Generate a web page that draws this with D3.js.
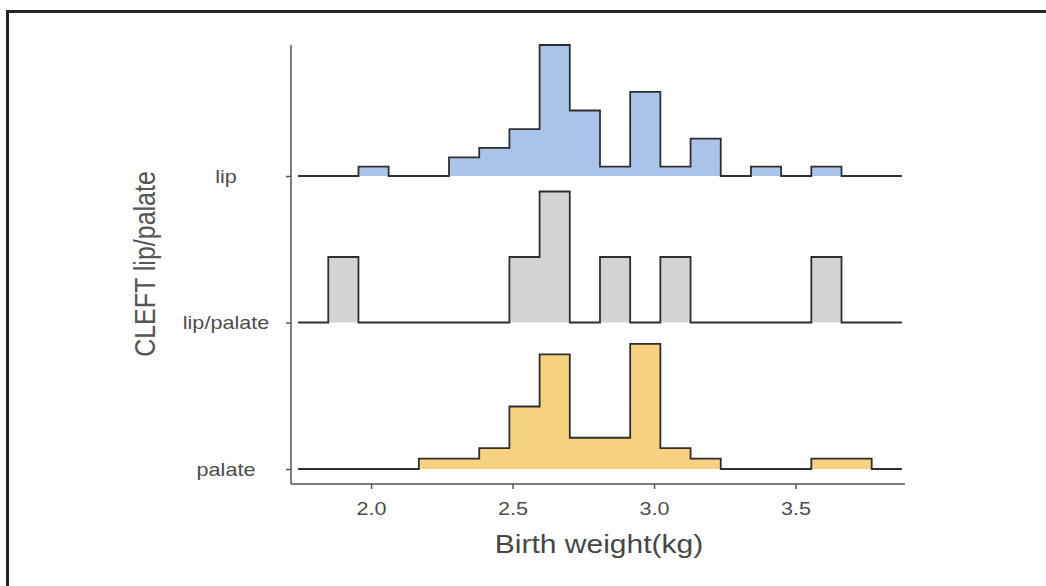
<!DOCTYPE html>
<html>
<head>
<meta charset="utf-8">
<script src="https://cdn.jsdelivr.net/npm/d3@7"></script>
<style>
  html, body { margin: 0; padding: 0; background: #fff; }
  svg { display: block; font-family: "Liberation Sans", Arial, sans-serif; }
</style>
</head>
<body>
<script>
// birth weight histograms (counts per bin), one ridge per cleft type
var groups = ["lip", "lip/palate", "palate"];
var binStart = 1.742;
var binWidth = 0.1067;
var lipCounts       = [0,0,1,0,0,2,3,5,14,7,1,9,1,4,0,1,0,1,0,0];
var lipPalateCounts = [0,1,0,0,0,0,0,1,2,0,1,0,1,0,0,0,0,1,0,0];
var palateCounts    = [0,0,0,0,1,1,2,6,11,3,3,12,2,1,0,0,0,1,1,0];
var xTicks = [2.0, 2.5, 3.0, 3.5];
var fills = { "lip": "#a9c4e8", "lip/palate": "#d3d3d3", "palate": "#f6d180" };

var countsBy = { "lip": lipCounts, "lip/palate": lipPalateCounts, "palate": palateCounts };

// turn counts into densities like the binline stat does
var ridges = groups.map(function(g) {
  var c = countsBy[g];
  var n = d3.sum(c);
  var pts = c.map(function(v, i) {
    return { x: binStart + i * binWidth, d: v / (n * binWidth) };
  });
  pts.push({ x: binStart + c.length * binWidth, d: 0 });
  return { group: g, points: pts };
});
var maxD = d3.max(ridges, function(r) { return d3.max(r.points, function(p) { return p.d; }); });

var svg = d3.select("body").append("svg")
  .attr("width", 1046)
  .attr("height", 586);

// outer frame of the figure
svg.append("rect")
  .attr("x", 7.5).attr("y", 11.5)
  .attr("width", 1100).attr("height", 700)
  .attr("fill", "none")
  .attr("stroke", "#252525")
  .attr("stroke-width", 3);

var x = d3.scaleLinear().domain([1.717, 3.887]).range([291, 905]);
var y = d3.scalePoint().domain(["palate", "lip/palate", "lip"]).range([469, 176]);
var h = d3.scaleLinear().domain([0, maxD]).range([0, 131]);

var area = d3.area()
  .curve(d3.curveStepAfter)
  .x(function(p) { return x(p.x); });
var line = d3.line()
  .curve(d3.curveStepAfter)
  .x(function(p) { return x(p.x); });

ridges.forEach(function(r) {
  var base = y(r.group);
  area.y0(base).y1(function(p) { return base - h(p.d); });
  line.y(function(p) { return base - h(p.d); });
  svg.append("path")
    .attr("d", area(r.points))
    .attr("fill", fills[r.group]);
  svg.append("path")
    .attr("d", line(r.points))
    .attr("fill", "none")
    .attr("stroke", "#2e2e2e")
    .attr("stroke-width", 1.8);
});

// axes
var axisCol = "#5b534f";
svg.append("line")
  .attr("x1", 291).attr("x2", 291)
  .attr("y1", 45).attr("y2", 484)
  .attr("stroke", axisCol).attr("stroke-width", 1.5);
svg.append("line")
  .attr("x1", 291).attr("x2", 905)
  .attr("y1", 484).attr("y2", 484)
  .attr("stroke", axisCol).attr("stroke-width", 1.5);

var xAxis = svg.append("g")
  .attr("transform", "translate(0,484)")
  .call(d3.axisBottom(x).tickValues(xTicks).tickFormat(d3.format(".1f")).tickSize(5));
xAxis.select(".domain").remove();
xAxis.selectAll("line").attr("stroke", axisCol).attr("stroke-width", 1.5);
xAxis.selectAll("text")
  .attr("y", 0).attr("dy", 0)
  .attr("transform", "translate(0,31) scale(1.2,1)")
  .attr("fill", "#4d4d4d")
  .style("font-size", "18px");

var yAxis = svg.append("g")
  .attr("transform", "translate(291,0)")
  .call(d3.axisLeft(y).tickSize(5));
yAxis.select(".domain").remove();
yAxis.selectAll("line").attr("stroke", axisCol).attr("stroke-width", 1.5);
yAxis.selectAll("text")
  .attr("x", 0).attr("dy", "0.35em")
  .attr("text-anchor", "middle")
  .attr("transform", "translate(-65,0) scale(1.2,1)")
  .attr("fill", "#4d4d4d")
  .style("font-size", "18px");

// titles
svg.append("text")
  .attr("transform", "translate(599,553) scale(1.2,1)")
  .attr("text-anchor", "middle")
  .attr("fill", "#474747")
  .style("font-size", "25px")
  .text("Birth weight(kg)");

svg.append("text")
  .attr("transform", "translate(155,264) scale(1.2,1) rotate(-90)")
  .attr("text-anchor", "middle")
  .attr("fill", "#555")
  .style("font-size", "25px")
  .text("CLEFT lip/palate");
</script>
</body>
</html>
